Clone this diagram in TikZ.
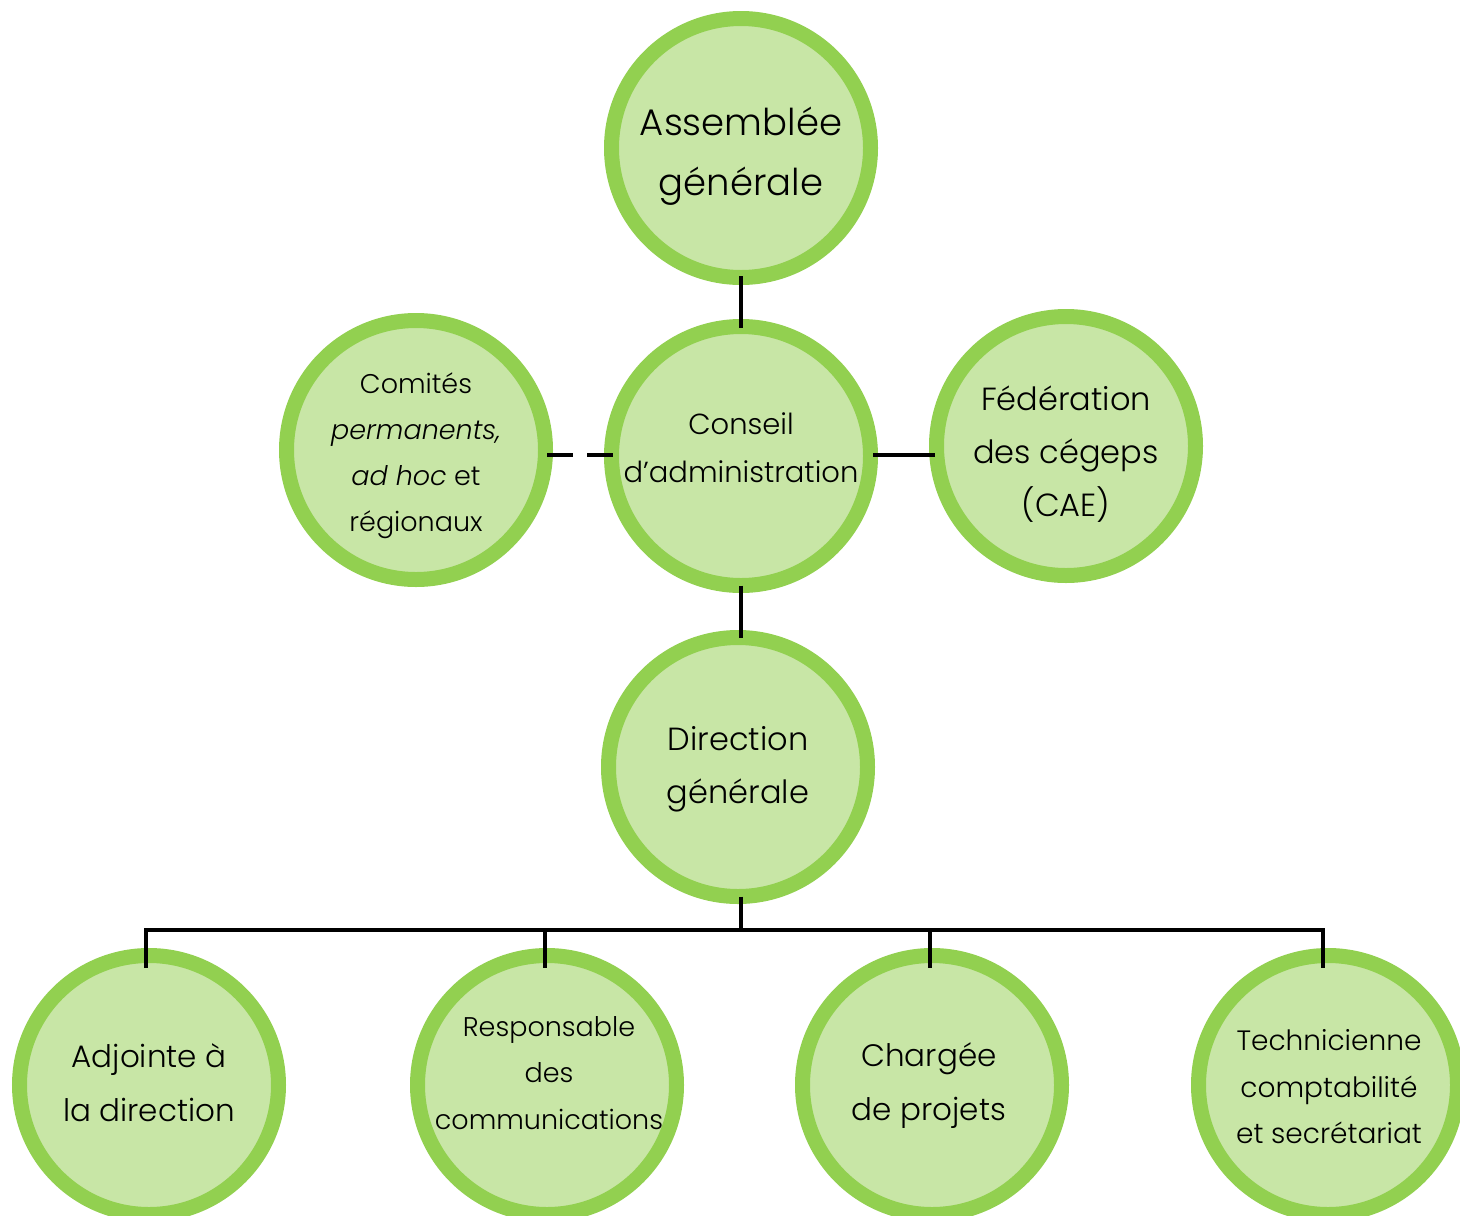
\documentclass[tikz,border=0pt]{standalone}
\usepackage{fontspec}
\IfFontExistsTF{Poppins Light}{%
  \setmainfont{Poppins Light}[ItalicFont={Poppins Light Italic}]}{%
  \setmainfont{Poppins}}
\definecolor{ringgreen}{HTML}{92D050}
\definecolor{fillgreen}{HTML}{C8E6A6}
\begin{document}
\begin{tikzpicture}[x=1pt,y=-1pt,
  orgcircle/.style={circle, draw=ringgreen, fill=fillgreen, line width=15pt,
    minimum size=259pt, inner sep=0pt, outer sep=0pt},
  orgtext/.style={align=center, text=black, inner sep=0pt},
  conn/.style={line width=4pt, black},
  dconn/.style={line width=4pt, black, dash pattern=on 26pt off 14pt}]
\useasboundingbox (0,0) rectangle (1460,1216);
% circles
\node[orgcircle] (ag) at (741,148) {};
\node[orgcircle] (ca) at (741,456) {};
\node[orgcircle] (cp) at (416,450) {};
\node[orgcircle] (fc) at (1066,446) {};
\node[orgcircle] (dg) at (738,767) {};
\node[orgcircle] (ad) at (149,1085) {};
\node[orgcircle] (rc) at (547,1085) {};
\node[orgcircle] (cj) at (932,1085) {};
\node[orgcircle] (tc) at (1328,1085) {};
% texts
\node[orgtext, font=\fontsize{37}{60}\selectfont] (agt) at (741,156) {Assemblée\\générale};
\node[orgtext, font=\fontsize{29}{48}\selectfont] (cat) at (741,448) {Conseil\\d’administration};
\node[orgtext, font=\fontsize{27}{46}\selectfont] (cpt) at (416,455.5) {Comités\\\textit{permanents,}\\\textit{ad hoc} et\\régionaux};
\node[orgtext, font=\fontsize{32}{53}\selectfont] (fct) at (1066,454) {Fédération\\des cégeps\\(CAE)};
\node[orgtext, font=\fontsize{32}{53}\selectfont] (dgt) at (738,769) {Direction\\générale};
\node[orgtext, font=\fontsize{31}{54}\selectfont] (adt) at (149,1083) {Adjointe à\\la direction};
\node[orgtext, font=\fontsize{27}{46.5}\selectfont] (rct) at (549,1073) {Responsable\\des\\communications};
\node[orgtext, font=\fontsize{31}{54}\selectfont] (cjt) at (929,1086) {Chargée\\de projets};
\node[orgtext, font=\fontsize{28}{46.5}\selectfont] (tct) at (1329,1087) {Technicienne\\comptabilité\\et secrétariat};
% connectors
\draw[conn] ([yshift=1.5pt]ag.south) -- ([yshift=-1.5pt]ca.north);
\draw[conn] (ca.south) -- (ca.south |- dg.north);
\draw[dconn] ([xshift=1.5pt]cp.east |- 0,455) -- ([xshift=1.5pt]ca.west |- 0,455);
\draw[conn] ([xshift=2.5pt]ca.east |- 0,455) -- ([xshift=-1.5pt]fc.west |- 0,455);
\coordinate (bus) at (741,930);
\draw[conn] (dg.south -| bus) -- (bus);
\draw[conn] ([yshift=-12.5pt]ad.north -| 146,0) -- (146,930) -- (1323,930) -- ([yshift=-12.5pt]tc.north -| 1323,0);
\draw[conn] (545,930) -- ([yshift=-12.5pt]rc.north -| 545,0);
\draw[conn] (930,930) -- ([yshift=-12.5pt]cj.north -| 930,0);
\end{tikzpicture}
\end{document}
